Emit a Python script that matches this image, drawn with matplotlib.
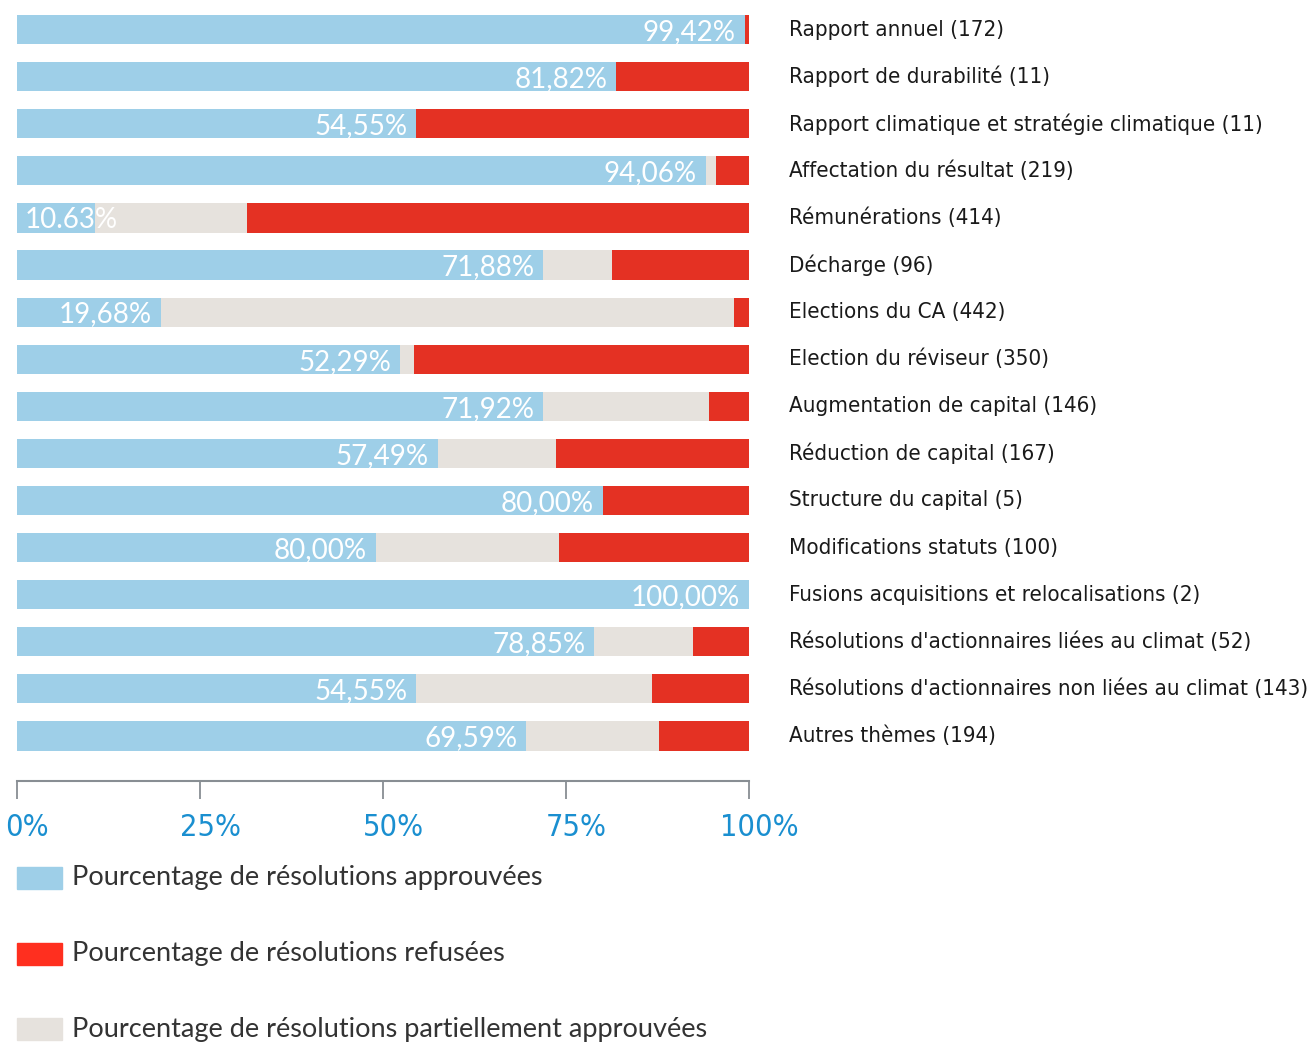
import matplotlib
matplotlib.use("Agg")
import matplotlib.pyplot as plt
import numpy as np
from matplotlib.transforms import ScaledTranslation

categories = [
    "Rapport annuel (172)",
    "Rapport de durabilité (11)",
    "Rapport climatique et stratégie climatique (11)",
    "Affectation du résultat (219)",
    "Rémunérations (414)",
    "Décharge (96)",
    "Elections du CA (442)",
    "Election du réviseur (350)",
    "Augmentation de capital (146)",
    "Réduction de capital (167)",
    "Structure du capital (5)",
    "Modifications statuts (100)",
    "Fusions acquisitions et relocalisations (2)",
    "Résolutions d'actionnaires liées au climat (52)",
    "Résolutions d'actionnaires non liées au climat (143)",
    "Autres thèmes (194)",
]
approved = [99.42, 81.82, 54.55, 94.06, 10.63, 71.88, 19.68, 52.29,
            71.92, 57.49, 80.00, 49.0, 100.0, 78.85, 54.55, 69.59]
partial = [0.0, 0.0, 0.0, 1.4, 20.8, 9.4, 78.3, 1.9,
           22.6, 16.1, 0.0, 25.0, 0.0, 13.5, 32.2, 18.1]
refused = [0.58, 18.18, 45.45, 4.54, 68.57, 18.72, 2.02, 45.81,
           5.48, 26.41, 20.0, 26.0, 0.0, 7.65, 13.25, 12.31]
bar_labels = ["99,42%", "81,82%", "54,55%", "94,06%", "10.63%", "71,88%",
              "19,68%", "52,29%", "71,92%", "57,49%", "80,00%", "80,00%",
              "100,00%", "78,85%", "54,55%", "69,59%"]
legend_labels = ["Pourcentage de résolutions approuvées",
                 "Pourcentage de résolutions refusées",
                 "Pourcentage de résolutions partiellement approuvées"]
ticks = [0, 25, 50, 75, 100]

blue = "#9ecfe8"
red = "#e43123"
beige = "#e6e2dd"
narrow = ["DejaVu Sans"]
light = ["Lato", "Open Sans", "DejaVu Sans"]

fig = plt.figure(figsize=(13.1, 10.44), dpi=100)
ax = fig.add_axes([17 / 1310, 1 - 781 / 1044, 732 / 1310, 766 / 1044])

y = np.arange(len(categories))
a = np.array(approved)
p = np.array(partial)
r = np.array(refused)
h = 0.62
ax.barh(y, a, height=h, color=blue)
ax.barh(y, p, left=a, height=h, color=beige)
ax.barh(y, r, left=a + p, height=h, color=red)

for i, lab in enumerate(bar_labels):
    if approved[i] < 15:
        ax.text(1.1, i + 0.05, lab, ha="left", va="center", color="white",
                fontsize=20, family=light, fontweight="normal")
    else:
        ax.text(approved[i] - 1.2, i + 0.05, lab, ha="right", va="center", color="white",
                fontsize=20, family=light, fontweight="normal")
    ax.text(105.4, i, categories[i], ha="left", va="center", color="#1a1a1a",
            fontsize=16, family=narrow, fontstretch="condensed", clip_on=False)

ax.set_xlim(0, 100)
ax.set_ylim(15 + 45 / 47.0, -0.31)
ax.set_yticks([])
for s in ["top", "right", "left"]:
    ax.spines[s].set_visible(False)
ax.spines["bottom"].set_color("#888e93")
ax.spines["bottom"].set_linewidth(1.5)
ax.set_xticks(ticks)
ax.set_xticklabels([f"{t}%" for t in ticks], color="#1a8fd0", fontsize=22,
                   family=narrow, fontstretch="condensed")
ax.tick_params(axis="x", length=13, width=1.3, color="#888e93", pad=10)
for lbl in ax.get_xticklabels():
    lbl.set_transform(lbl.get_transform() + ScaledTranslation(0.1, 0, fig.dpi_scale_trans))

# legende
leg_colors = [blue, "#ff2f1f", beige]
leg_y = [878, 954, 1029]
for c, ly, txt in zip(leg_colors, leg_y, legend_labels):
    fy = 1 - ly / 1044
    fig.patches.append(plt.Rectangle((17 / 1310, fy - 11 / 1044), 45 / 1310, 22 / 1044,
                                     color=c, transform=fig.transFigure))
    fig.text(72 / 1310, fy, txt, ha="left", va="center", fontsize=19.5,
             family=light, color="#333333")

fig.savefig("out.png", dpi=100)
